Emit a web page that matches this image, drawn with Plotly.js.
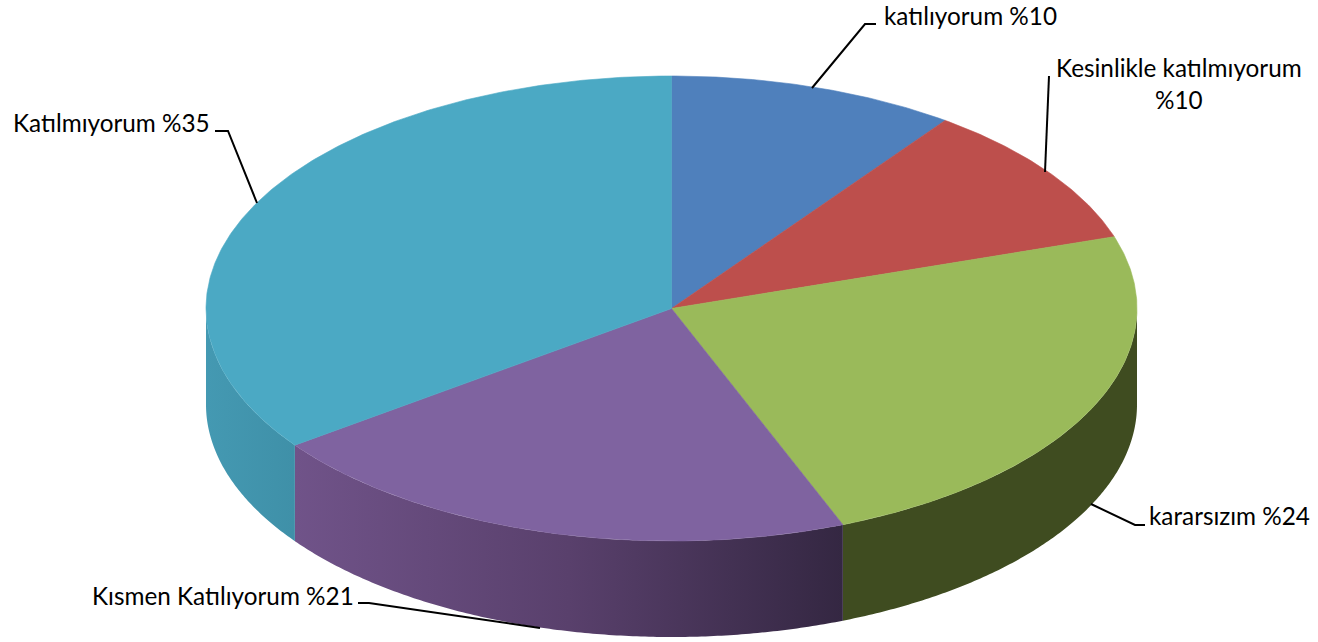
<!DOCTYPE html>
<html><head><meta charset="utf-8">
<script src="https://cdn.plot.ly/plotly-3.0.1.min.js"></script>
<style>html,body{margin:0;padding:0;background:#fff;overflow:hidden}#c{width:1318px;height:642px}</style>
</head><body><div id="c"></div>
<script>
// Data
const categories = ['katılıyorum','Kesinlikle katılmıyorum','kararsızım','Kısmen Katılıyorum','Katılmıyorum'];
const values = [10,10,24,21,35];
const topColors = ['#4f80bc','#bd4f4c','#9aba5a','#7f63a0','#4ba9c4'];
const labelTexts = ['katılıyorum %10','Kesinlikle katılmıyorum<br>%10','kararsızım %24','Kısmen Katılıyorum %21','Katılmıyorum %35'];

// Layout / geometry (pixel-like axis units)
const W=1318,H=642,cx=671.5,cy=308.5,rx=465.5,ry=232.5,depth=96;
const sideGrad = {
  2:[[0,'#3f4c20'],[1,'#3f4c20']],
  3:[[0,'#705389'],[0.5,'#59406c'],[1,'#342742']],
  4:[[0,'#4499b2'],[1,'#3f90a8']]
};
const px=t=>cx+rx*Math.sin(t*Math.PI/180), py=t=>cy-ry*Math.cos(t*Math.PI/180);
const arc=(a,b,dy=0)=>{const xs=[],ys=[],n=Math.max(2,Math.ceil(Math.abs(b-a)*2));
  for(let i=0;i<=n;i++){const t=a+(b-a)*i/n;xs.push(px(t));ys.push(py(t)+dy);}return [xs,ys];};

const total=values.reduce((a,b)=>a+b,0);
const traces=[],tops=[];let acc=0;
values.forEach((v,i)=>{
  const a=acc/total*360,b=(acc+v)/total*360;acc+=v;
  const lo=Math.max(a,90),hi=Math.min(b,270);
  if(hi>lo){
    const [x1,y1]=arc(lo,hi),[x2,y2]=arc(hi,lo,depth);
    const xs=x1.concat(x2),ys=y1.concat(y2);xs.push(xs[0]);ys.push(ys[0]);
    traces.push({type:'scatter',mode:'none',x:xs,y:ys,fill:'toself',hoverinfo:'skip',
      fillgradient:{type:'horizontal',colorscale:sideGrad[i],start:Math.min(...xs),stop:Math.max(...xs)}});
  }
  const [x,y]=arc(a,b);
  tops.push({type:'scatter',mode:'lines',x:[cx,...x,cx],y:[cy,...y,cy],fill:'toself',fillcolor:topColors[i],
    line:{color:topColors[i],width:0.6},name:categories[i],hoverinfo:'name'});
});

const font={family:'Lato, "Open Sans", sans-serif',size:24.3,color:'#000'};
const ann=(i,x,y,xanchor)=>({x,y,xref:'x',yref:'y',text:labelTexts[i],showarrow:false,xanchor,yanchor:'middle',align:'center',font});
const annotations=[
  ann(0,882,15,'left'),
  ann(1,1178.5,83,'center'),
  ann(2,1147,515,'left'),
  ann(3,89.5,595,'left'),
  ann(4,10.5,122,'left')
];
const leader=d=>({type:'path',path:d,xref:'x',yref:'y',line:{color:'#000',width:2}});
const shapes=[
  leader('M812,88 L865,24 L876,24'),
  leader('M1045,172 L1049,76'),
  leader('M1091,504 L1135,525 L1145,525'),
  leader('M358,603 L369,603 L540,628'),
  leader('M215,131 L228,131 L257,203')
];

Plotly.newPlot('c',traces.concat(tops),{
  width:W,height:H,margin:{l:0,r:0,t:0,b:0},showlegend:false,
  paper_bgcolor:'#fff',plot_bgcolor:'#fff',
  xaxis:{range:[0,W],visible:false,fixedrange:true},
  yaxis:{range:[H,0],visible:false,fixedrange:true},
  annotations,shapes
},{displayModeBar:false,staticPlot:true});
</script></body></html>
